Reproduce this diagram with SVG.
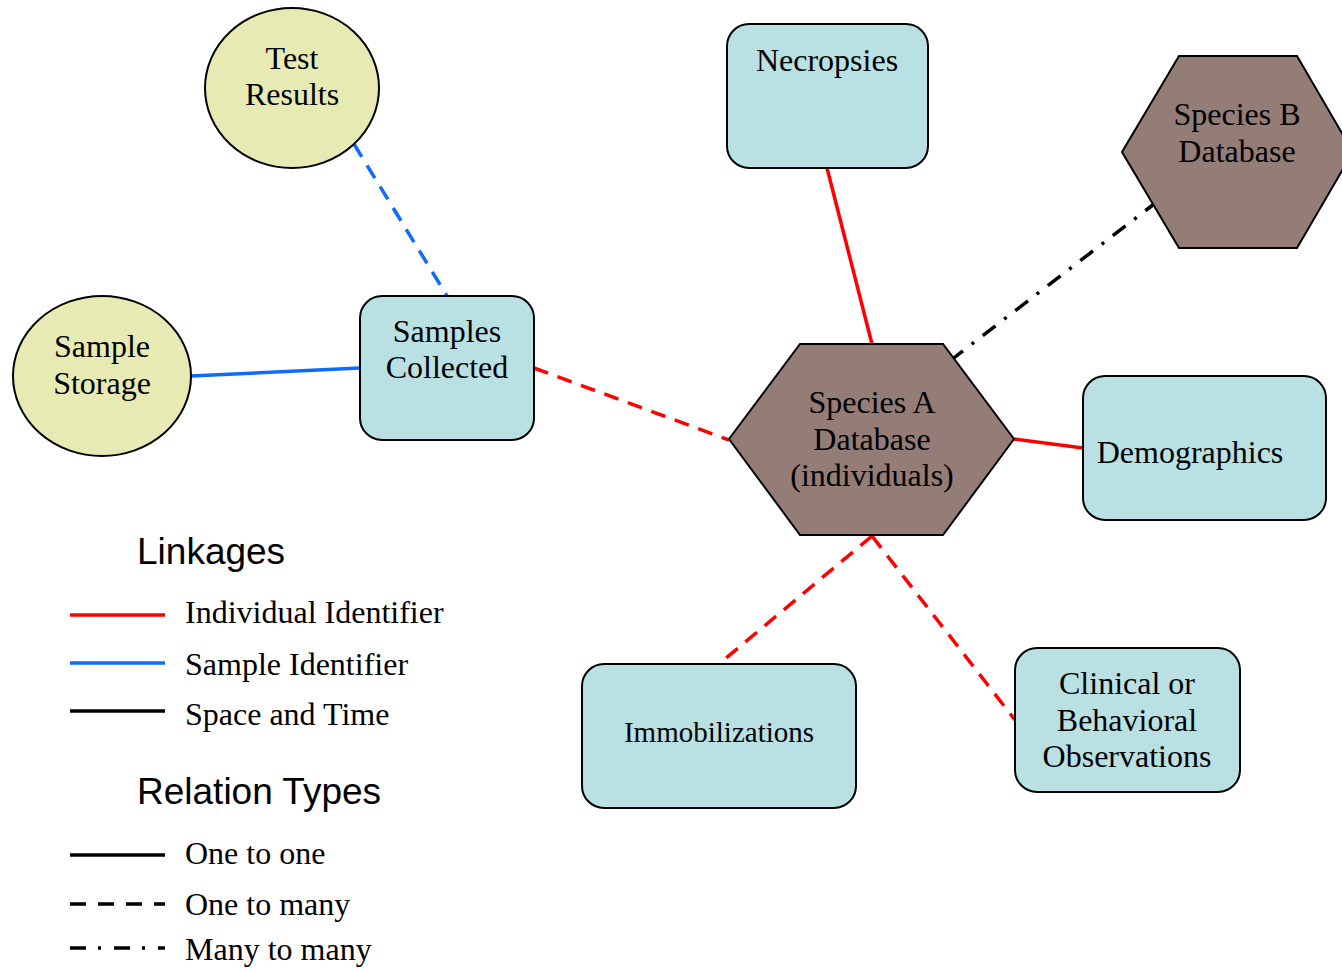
<svg xmlns="http://www.w3.org/2000/svg" width="1342" height="968" viewBox="0 0 1342 968">
<style>
.box{fill:#b9e0e3;stroke:#000;stroke-width:2}
.hex{fill:#947c77;stroke:#000;stroke-width:2}
.ell{fill:#e7ebb3;stroke:#000;stroke-width:2}
.t{font-family:"Liberation Serif","Times New Roman",serif;font-size:32px;fill:#000;text-anchor:middle}
.lt{font-family:"Liberation Serif","Times New Roman",serif;font-size:32px;fill:#000}
.h{font-family:"Liberation Sans",Arial,sans-serif;font-size:37px;fill:#000}
.c{fill:none;stroke-width:3.5}
.red{stroke:#ff0000}
.blue{stroke:#0f6bff}
.blk{stroke:#000}
.dash{stroke-dasharray:15 10}
.dd{stroke-dasharray:16 11 3 11}
</style>
<rect width="1342" height="968" fill="#fff"/>
<g id="connectors">
<line class="c blue dash" x1="354" y1="144" x2="447" y2="296"/>
<line class="c blue" x1="191" y1="376" x2="360" y2="368"/>
<line class="c red dash" x1="534" y1="368" x2="729" y2="440"/>
<line class="c red" x1="827" y1="168" x2="872" y2="344"/>
<line class="c blk dd" x1="1158" y1="201" x2="942" y2="367"/>
<line class="c red" x1="1014" y1="439" x2="1083" y2="448"/>
<line class="c red dash" x1="872" y1="536" x2="719" y2="664"/>
<line class="c red dash" x1="872" y1="536" x2="1015" y2="720"/>
</g>
<g id="test-results">
<ellipse class="ell" cx="292" cy="88" rx="87" ry="80"/>
<text class="t" x="292" y="69">Test</text>
<text class="t" x="292" y="105">Results</text>
</g>
<g id="sample-storage">
<ellipse class="ell" cx="102" cy="376" rx="89" ry="80"/>
<text class="t" x="102" y="357">Sample</text>
<text class="t" x="102" y="394">Storage</text>
</g>
<g id="samples-collected">
<rect class="box" x="360" y="296" width="174" height="144" rx="22"/>
<text class="t" x="447" y="342">Samples</text>
<text class="t" x="447" y="378">Collected</text>
</g>
<g id="necropsies">
<rect class="box" x="727" y="24" width="201" height="144" rx="22"/>
<text class="t" x="827" y="71">Necropsies</text>
</g>
<g id="species-b">
<polygon class="hex" points="1122,152 1179,56 1297,56 1353,152 1297,248 1179,248"/>
<text class="t" x="1237" y="125">Species B</text>
<text class="t" x="1237" y="162">Database</text>
</g>
<g id="species-a">
<polygon class="hex" points="729,439 800,344 943,344 1014,439 943,535 800,535"/>
<text class="t" x="872" y="413">Species A</text>
<text class="t" x="872" y="450">Database</text>
<text class="t" x="872" y="486">(individuals)</text>
</g>
<g id="demographics">
<rect class="box" x="1083" y="376" width="243" height="144" rx="22"/>
<text class="t" x="1190" y="463">Demographics</text>
</g>
<g id="immobilizations">
<rect class="box" x="582" y="664" width="274" height="144" rx="22"/>
<text class="t" x="719" y="742" style="font-size:29px">Immobilizations</text>
</g>
<g id="clinical">
<rect class="box" x="1015" y="648" width="225" height="144" rx="22"/>
<text class="t" x="1127" y="694">Clinical or</text>
<text class="t" x="1127" y="731">Behavioral</text>
<text class="t" x="1127" y="767">Observations</text>
</g>
<g id="legend">
<text class="h" x="137" y="564">Linkages</text>
<line class="c red" x1="70" y1="615" x2="165" y2="615"/>
<text class="lt" x="185" y="623">Individual Identifier</text>
<line class="c blue" x1="70" y1="663" x2="165" y2="663"/>
<text class="lt" x="185" y="675">Sample Identifier</text>
<line class="c blk" x1="70" y1="711" x2="165" y2="711"/>
<text class="lt" x="185" y="725">Space and Time</text>
<text class="h" x="137" y="804">Relation Types</text>
<line class="c blk" x1="70" y1="855" x2="165" y2="855"/>
<text class="lt" x="185" y="864">One to one</text>
<line class="c blk" x1="70" y1="904" x2="165" y2="904" style="stroke-dasharray:16 12"/>
<text class="lt" x="185" y="915">One to many</text>
<line class="c blk" x1="70" y1="948" x2="165" y2="948" style="stroke-dasharray:16 12 3 13"/>
<text class="lt" x="185" y="960">Many to many</text>
</g>
</svg>
